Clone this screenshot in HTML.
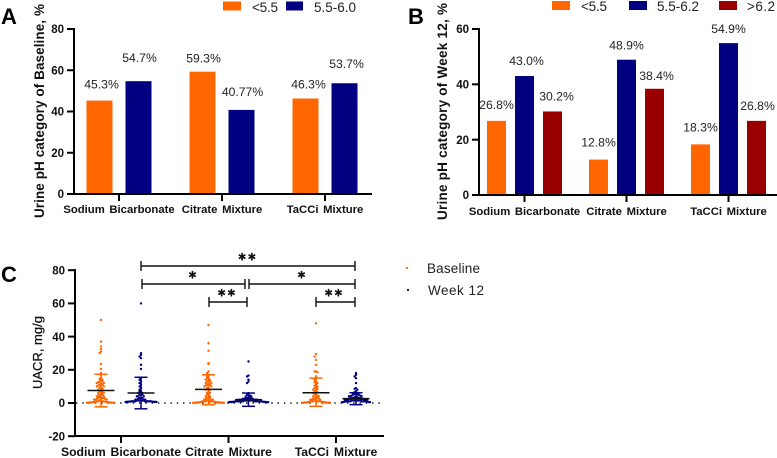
<!DOCTYPE html>
<html lang="en">
<head>
<meta charset="utf-8">
<title>Urine pH category and UACR charts</title>
<style>
html,body{margin:0;padding:0;background:#fff;width:777px;height:458px;overflow:hidden}
svg{display:block;font-family:"Liberation Sans",Arial,sans-serif}
.tick{font-size:11.5px;font-weight:bold;fill:#111;text-anchor:end}
.cat{font-size:11.3px;font-weight:bold;fill:#111;text-anchor:middle;word-spacing:1.5px}
.cat-c{font-size:12.2px;font-weight:bold;fill:#111;text-anchor:middle;word-spacing:1.5px}
.val{font-size:12.2px;fill:#222;text-anchor:middle}
.leg{font-size:13.5px;fill:#222}
.title{font-size:13.5px;font-weight:bold;fill:#111}
.letter{font-weight:bold;fill:#000;font-size:22px}
.star{font-family:"DejaVu Sans",sans-serif;font-size:10.5px;fill:#111;text-anchor:middle;letter-spacing:1px}
</style>
</head>
<body>
<svg id="chart" xmlns="http://www.w3.org/2000/svg" width="777" height="458" viewBox="0 0 777 458">
  <text class="letter" x="1" y="24">A</text>
  <text class="letter" x="408" y="24">B</text>
  <text class="letter" x="1" y="282">C</text>
  <text class="title" transform="translate(44,218) rotate(-90)" textLength="214">Urine pH category of Baseline, %</text>
  <text class="title" transform="translate(447,220) rotate(-90)" textLength="217">Urine pH category of Week 12, %</text>
  <text class="title" style="font-weight:normal;font-size:13px;stroke:#111;stroke-width:.25" transform="translate(42,389) rotate(-90)" textLength="73">UACR, mg/g</text>
</svg>
<script>
// ---- shared categories ----
const categories = ["Sodium Bicarbonate", "Citrate Mixture", "TaCCi Mixture"];

// ---- panel A data ----
const aTicks = [0, 20, 40, 60, 80];
const aLow = [45.3, 59.3, 46.3];
const aMid = [54.7, 40.77, 53.7];
const aLowLabels = ["45.3%", "59.3%", "46.3%"];
const aMidLabels = ["54.7%", "40.77%", "53.7%"];

// ---- panel B data ----
const bTicks = [0, 20, 40, 60];
const bLow = [26.8, 12.8, 18.3];
const bMid = [43.0, 48.9, 54.9];
const bHigh = [30.2, 38.4, 26.8];
const bLowLabels = ["26.8%", "12.8%", "18.3%"];
const bMidLabels = ["43.0%", "48.9%", "54.9%"];
const bHighLabels = ["30.2%", "38.4%", "26.8%"];

// ---- panel C data ----
const cTicks = [-20, 0, 20, 40, 60, 80];
const cBaselineMean = [7.5, 8.2, 6.2];
const cBaselineUpper = [17.3, 17, 15];
const cBaselineLower = [-2.3, -1, -2];
const cWeekMean = [6, 2, 2.6];
const cWeekUpper = [15.5, 6, 6.2];
const cWeekLower = [-3.5, -2, -1];
const cSodiumBaseline = [50,37,34,32.5,31,30,23.5,20.5,18,17,15,14.5,14,13.5,13,13,12.5,12,12,11.5,11,11,10.5,10,10,9.5,9,8.5,8,7.5,7,6.5,6,6,5.5,5,5,4.5,4,4,3.5,3.5,3,3,3,2.5,2.5,2,2,2,1.5,1.5,1,1,1,1,.8,.6,.5,.5,.5,.5,.4,.3,.3,.3,.2,.2,.2,.1];
const cSodiumWeek = [60,30,29,28,27,23,20.5,15,14,13,12,11,10,9,8,7,7,6,6,5,5,5,4,4,4,3,3,3,2.5,2,2,2,2,1.5,1.5,1.5,1.5,1.5,1.5,1,1,1,1,1,1,1,1,1,.8,.8,.8,.7,.7,.7,.6,.6];
const cCitrateBaseline = [47,36,31.5,24,23.5,19,18,17,16,15.5,15,14,14,13.5,13,13,12,12,11.5,11,11,10.5,10,10,9,9,8,8,7,6,6,5,5,4,4,3.5,3,3,2.5,2,2,2,1.5,1.5,1,1,1,1,1,1,.8,.8,.6,.5,.4,.4,.3,.3,.3,.2,.2,.2,.2,.1,.1];
const cCitrateWeek = [25,16.5,16,14,13,12,6,5,5,4.5,4,4,3.5,3,3,3,3,2.5,2.5,2.5,2,2,2,2,2,2,1.5,1.5,1.5,1.5,1.5,1.5,1.5,1,1,1,1,1,1,1,1,1,1,1,1,.8,.8,.7,.7,.6,.6,.6,.5,.5,.5];
const cTacciBaseline = [48,29.5,28,26,23,19,19,18.5,16,15,14,13,12.5,12,11,10.5,10,9.5,9,8.5,8,7.5,7,6.5,6,5.5,5,4.5,4,4,3.5,3,3,2.5,2.5,2,2,2,1.5,1.5,1,1,1,1,1,1,.7,.7,.6,.5,.4,.3,.3,.3,.2,.2,.2,.1,.1];
const cTacciWeek = [18,17,16,15,12,9,8.5,8,7,6.5,6,6,5.5,5.5,5,5,5,4.5,4.5,4,4,4,3.5,3.5,3.5,3,3,3,3,2.5,2.5,2.5,2.5,2,2,2,2,2,2,1.5,1.5,1.5,1.5,1.5,1.5,1.5,1,1,1,1,1,1,1,1,.8,.8,.6,.6,.5,.5];

// ---- layout (not data) ----
const ORANGE = "#ff6600", NAVY = "#000080", RED = "#990000", INK = "#000";
const aLabelNudge = [[2,12],[1,19],[1,9],[1,14],[3,10],[2,15]];
const bLabelNudge = [[0,12],[2,11],[4,11],[0,13],[0,10],[2,9],[0,13],[0,10],[1,11]];

const svg = document.getElementById("chart");
const NS = "http://www.w3.org/2000/svg";
function make(tag, attrs, text) {
  const el = document.createElementNS(NS, tag);
  for (const k in attrs) el.setAttribute(k, attrs[k]);
  if (text !== undefined) el.textContent = text;
  svg.appendChild(el);
  return el;
}
function line(x1, y1, x2, y2, color, width) {
  return make("line", {x1, y1, x2, y2, stroke: color, "stroke-width": width});
}

// ---- axis functions ----
const yA = v => 194 - v * (165 / 80);
const yB = v => 195 - v * (166 / 60);
const yC = v => 403 - v * 1.66;
const xA = (cat, s) => 119 + 103 * cat + (s === 0 ? -19.5 : 19.5);
const xB = (cat, s) => 524.5 + 102 * cat + (s - 1) * 28;
const xC = (cat, s) => 121 + 107.5 * cat + (s === 0 ? -20 : 20);

function drawAxes(prefix, axisX, xEnd, y0, yTop, yBottom, ticks, yFn, catX, catY, catClass) {
  const yAxis = line(axisX, yTop - 1, axisX, yBottom + 1, INK, 2);
  
  
  const xAxis = line(axisX - 1, yBottom, xEnd, yBottom, INK, 2);
  
  
  ticks.forEach(t => {
    const tk = line(axisX - 7, yFn(t), axisX, yFn(t), INK, 2);
    
    
    const lb = make("text", {class: "tick", x: axisX - 10, y: yFn(t) + 4.2}, String(t));
    
    
  });
  categories.forEach((c, i) => {
    const tk = line(catX(i), yBottom, catX(i), yBottom + 7, INK, 2);
    
    
    const lb = make("text", {class: catClass, x: catX(i), y: catY}, c);
    
    
  });
}

function drawBar(prefix, cx, width, topY, baseY, color) {
  const r = make("rect", {x: cx - width / 2, y: topY, width, height: baseY - topY, fill: color});
  
  
}
function drawValueLabel(prefix, x, y, text) {
  const t = make("text", {class: "val", x, y}, text);
  
  
}
function drawLegendSwatch(name, x, y, w, h, color) {
  const r = make("rect", {x, y, width: w, height: h, fill: color});
  
  
}
function drawLegendText(name, x, y, text, len) {
  const t = make("text", {class: "leg", x, y, textLength: len}, text);
  
  
}

// ---- panel A ----
[[aLow, aLowLabels, ORANGE], [aMid, aMidLabels, NAVY]].forEach((set, s) => {
  set[0].forEach((v, i) => {
    drawBar('panel-a', xA(i, s), 26, yA(v), yA(0), set[2]);
    const n = aLabelNudge[i * 2 + s];
    drawValueLabel('panel-a', xA(i, s) + n[0], yA(v) - n[1], set[1][i]);
  });
});
drawAxes('panel-a', 74, 372, 194, 29, 194, aTicks, yA, i => 119 + 103 * i, 213, "cat");
drawLegendSwatch('panel-a-legend-swatch-low', 223, 1.5, 18, 9, ORANGE);
drawLegendText('panel-a-legend-label-low', 252, 12, "<5.5", 26);
drawLegendSwatch('panel-a-legend-swatch-mid', 286, 1.5, 17, 9, NAVY);
drawLegendText('panel-a-legend-label-mid', 314, 12, "5.5-6.0", 42);

// ---- panel B ----
[[bLow, bLowLabels, ORANGE], [bMid, bMidLabels, NAVY], [bHigh, bHighLabels, RED]].forEach((set, s) => {
  set[0].forEach((v, i) => {
    drawBar('panel-b', xB(i, s), 19, yB(v), yB(0), set[2]);
    const n = bLabelNudge[i * 3 + s];
    drawValueLabel('panel-b', xB(i, s) + n[0], yB(v) - n[1], set[1][i]);
  });
});
drawAxes('panel-b', 479, 777, 195, 29, 195, bTicks, yB, i => 524.5 + 102 * i, 215, "cat");
drawLegendSwatch('panel-b-legend-swatch-low', 552, 1, 18, 9, ORANGE);
drawLegendText('panel-b-legend-label-low', 581, 11, "<5.5", 26);
drawLegendSwatch('panel-b-legend-swatch-mid', 629, 1, 18, 9, NAVY);
drawLegendText('panel-b-legend-label-mid', 657, 11, "5.5-6.2", 42);
drawLegendSwatch('panel-b-legend-swatch-high', 719, 1, 18, 9, RED);
drawLegendText('panel-b-legend-label-high', 747, 11, ">6.2", 28);

// ---- panel C ----
drawAxes('panel-c', 75, 384, 436, 270, 436, cTicks, yC, i => 121 + 107.5 * i, 456, "cat-c");

const zeroLine = line(76, yC(0), 384, yC(0), "#111", 1.4);
zeroLine.setAttribute("stroke-dasharray", "1.4 4.9");



function drawSwarm(values, cx, color) {
  const counts = {};
  values.forEach(v => {
    const bin = Math.floor(v / 2);
    const n = counts[bin] || 0;
    counts[bin] = n + 1;
    const side = n % 2 === 0 ? 1 : -1;
    const dx = side * Math.ceil(n / 2) * 1.4;
    const dot = make("circle", {cx: cx + dx, cy: yC(v), r: 1.2, fill: color});
    
    
  });
}
function drawStats(cx, mean, upper, lower, color) {
  const stem = line(cx, yC(upper), cx, yC(lower), color, 1.5);
  
  
  const capTop = line(cx - 6.5, yC(upper), cx + 6.5, yC(upper), color, 1.5);
  
  
  const capBottom = line(cx - 6.5, yC(lower), cx + 6.5, yC(lower), color, 1.5);
  
  
  const meanLine = line(cx - 13.5, yC(mean), cx + 13.5, yC(mean), "#111", 1.5);
  
  
}
[[cSodiumBaseline, cSodiumWeek], [cCitrateBaseline, cCitrateWeek], [cTacciBaseline, cTacciWeek]].forEach((pair, i) => {
  drawSwarm(pair[0], xC(i, 0), ORANGE);
  drawSwarm(pair[1], xC(i, 1), NAVY);
  drawStats(xC(i, 0), cBaselineMean[i], cBaselineUpper[i], cBaselineLower[i], ORANGE);
  drawStats(xC(i, 1), cWeekMean[i], cWeekUpper[i], cWeekLower[i], NAVY);
});

function drawBracket(x1, x2, y, stars, starX) {
  const h = line(x1, y, x2, y, "#111", 1.4);
  
  
  const l = line(x1, y - 5, x1, y + 5, "#111", 1.4);
  
  
  const r = line(x2, y - 5, x2, y + 5, "#111", 1.4);
  
  
  const s = make("text", {class: "star", x: starX, y: y - 5.5}, stars);
  
  
}
drawBracket(141, 355, 266, "\u2731\u2731", 247.5);
drawBracket(142, 245, 284, "\u2731", 193);
drawBracket(249, 355, 284, "\u2731", 302);
drawBracket(209, 247, 302, "\u2731\u2731", 227);
drawBracket(316, 355, 302, "\u2731\u2731", 334);

const legDot1 = make("circle", {cx: 407, cy: 268, r: 1.1, fill: ORANGE});


drawLegendText('panel-c-legend-label-baseline', 427, 273, "Baseline", 53);
const legDot2 = make("circle", {cx: 408, cy: 290, r: 1.1, fill: NAVY});


drawLegendText('panel-c-legend-label-week-12', 428, 295, "Week 12", 56);
</script>
</body>
</html>
